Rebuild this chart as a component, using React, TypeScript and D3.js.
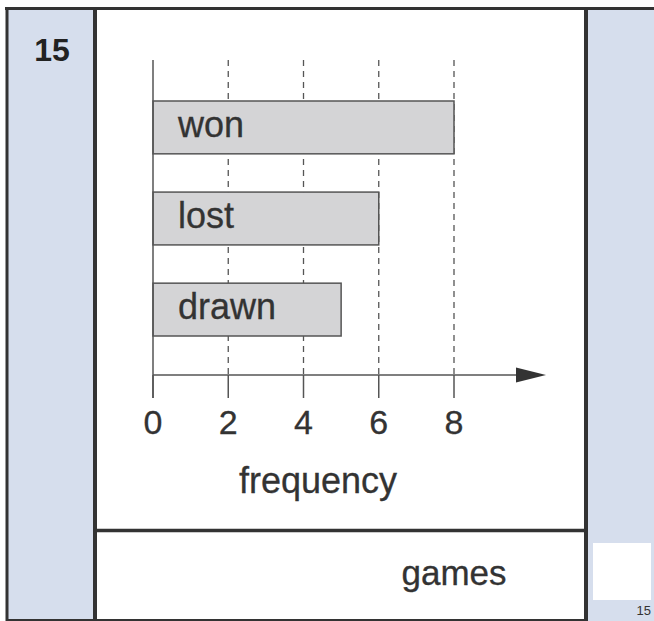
import { useEffect, useRef } from 'react';
import * as d3 from 'd3';

const categories = ['won', 'lost', 'drawn'];
const frequencies = [8, 6, 5];
const tickValues = [0, 2, 4, 6, 8];
const questionNumber = '15';
const xAxisTitle = 'frequency';
const answerUnit = 'games';

type Row = { category: string; value: number };

export default function App() {
  const svgRef = useRef<SVGSVGElement>(null);

  useEffect(() => {
    if (!svgRef.current) return;
    const svg = d3.select(svgRef.current);
    svg.selectAll('*').remove();

    const W = 654;
    const H = 621;
    const font = '"Liberation Sans", Arial, Helvetica, sans-serif';
    const ink = '#333333';
    const blue = '#d6deed';

    svg.attr('width', W).attr('height', H);

    // page frame
    svg.append('rect').attr('x', 0).attr('y', 0).attr('width', W).attr('height', H).attr('fill', '#ffffff');
    svg.append('rect').attr('x', 7).attr('y', 8).attr('width', 88).attr('height', 612).attr('fill', blue);
    svg.append('rect').attr('x', 586).attr('y', 8).attr('width', 68).attr('height', 613).attr('fill', blue);

    const frame = svg.append('g').attr('stroke', ink).attr('fill', 'none');
    frame.append('line').attr('x1', 5).attr('x2', W).attr('y1', 8.5).attr('y2', 8.5).attr('stroke-width', 3);
    frame.append('line').attr('x1', 7).attr('x2', 7).attr('y1', 7).attr('y2', 621).attr('stroke-width', 3);
    frame.append('line').attr('x1', 95).attr('x2', 95).attr('y1', 7).attr('y2', 621).attr('stroke-width', 4);
    frame.append('line').attr('x1', 586).attr('x2', 586).attr('y1', 7).attr('y2', 621).attr('stroke-width', 4);
    frame.append('line').attr('x1', 95).attr('x2', 586).attr('y1', 530.5).attr('y2', 530.5).attr('stroke-width', 3.5);
    frame.append('line').attr('x1', 7).attr('x2', 586).attr('y1', 620).attr('y2', 620).attr('stroke-width', 2);

    // question number
    svg.append('text')
      .attr('x', 52).attr('y', 61)
      .attr('text-anchor', 'middle')
      .style('font-family', font).style('font-weight', 'bold').style('font-size', '32px')
      .style('fill', '#222')
      .text(questionNumber);

    // answer box
    svg.append('rect').attr('x', 593).attr('y', 543).attr('width', 58).attr('height', 57).attr('fill', '#ffffff');
    svg.append('text')
      .attr('x', 651).attr('y', 615)
      .attr('text-anchor', 'end')
      .style('font-family', font).style('font-size', '13px').style('fill', ink)
      .text(questionNumber);

    svg.append('text')
      .attr('x', 454).attr('y', 585)
      .attr('text-anchor', 'middle')
      .style('font-family', font).style('font-size', '35px').style('fill', ink)
      .style('stroke', ink).style('stroke-width', 0.3)
      .text(answerUnit);

    // chart
    const data: Row[] = categories.map((c, i) => ({ category: c, value: frequencies[i] }));

    const x = d3.scaleLinear().domain([0, 8]).range([153, 454]);
    const y = d3.scaleBand<string>().domain(categories).range([101, 336]).paddingInner(0.42).paddingOuter(0);

    const axisY = 375;
    const top = 60;
    const lineColor = '#555555';

    // dashed grid lines
    svg.append('g')
      .selectAll('line')
      .data(tickValues.filter(t => t > 0))
      .enter().append('line')
      .attr('x1', d => x(d)).attr('x2', d => x(d))
      .attr('y1', top).attr('y2', axisY)
      .attr('stroke', lineColor).attr('stroke-width', 1.3)
      .attr('stroke-dasharray', '6,5');

    // bars
    const bars = svg.append('g');
    bars.selectAll('rect')
      .data(data)
      .enter().append('rect')
      .attr('x', x(0))
      .attr('y', d => y(d.category) as number)
      .attr('width', d => x(d.value) - x(0))
      .attr('height', y.bandwidth())
      .attr('fill', '#d4d4d6')
      .attr('stroke', lineColor)
      .attr('stroke-width', 1.5);

    bars.selectAll('text')
      .data(data)
      .enter().append('text')
      .attr('x', x(0) + 25)
      .attr('y', d => (y(d.category) as number) + y.bandwidth() * 0.68)
      .style('font-family', font).style('font-size', '36px').style('fill', ink)
      .style('stroke', ink).style('stroke-width', 0.3)
      .text(d => d.category);

    // vertical axis
    svg.append('line')
      .attr('x1', x(0)).attr('x2', x(0))
      .attr('y1', top).attr('y2', 398)
      .attr('stroke', lineColor).attr('stroke-width', 1.5);

    // horizontal axis with arrow
    svg.append('line')
      .attr('x1', x(0)).attr('x2', 520)
      .attr('y1', axisY).attr('y2', axisY)
      .attr('stroke', lineColor).attr('stroke-width', 1.5);
    svg.append('path')
      .attr('d', `M516,${axisY - 7.5}L546,${axisY}L516,${axisY + 7.5}Z`)
      .attr('fill', ink);

    // ticks and labels
    const ticks = svg.append('g');
    ticks.selectAll('line')
      .data(tickValues)
      .enter().append('line')
      .attr('x1', d => x(d)).attr('x2', d => x(d))
      .attr('y1', axisY).attr('y2', 398)
      .attr('stroke', lineColor).attr('stroke-width', 1.5);
    ticks.selectAll('text')
      .data(tickValues)
      .enter().append('text')
      .attr('x', d => x(d)).attr('y', 434)
      .attr('text-anchor', 'middle')
      .style('font-family', font).style('font-size', '34px').style('fill', ink)
      .style('stroke', ink).style('stroke-width', 0.3)
      .text(d => String(d));

    svg.append('text')
      .attr('x', 318).attr('y', 493)
      .attr('text-anchor', 'middle')
      .style('font-family', font).style('font-size', '36px').style('fill', ink)
      .style('stroke', ink).style('stroke-width', 0.3)
      .text(xAxisTitle);
  }, []);

  return <svg ref={svgRef} style={{ position: 'absolute', left: 0, top: 0, display: 'block' }}></svg>;
}
